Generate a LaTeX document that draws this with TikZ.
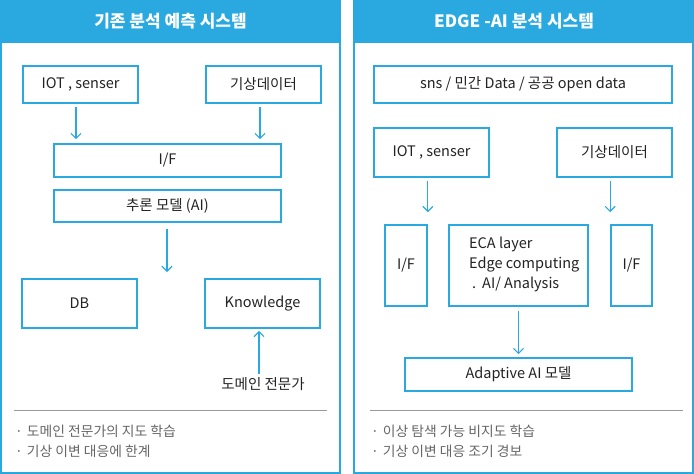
\documentclass[tikz,border=0pt]{standalone}
\usepackage{fontspec}
\setmainfont{Noto Sans CJK KR}
\usetikzlibrary{arrows.meta,calc}
\definecolor{skyb}{HTML}{29A9E0}
\definecolor{txt}{HTML}{222222}
\definecolor{graytxt}{HTML}{666666}
\definecolor{sepc}{HTML}{9A9A9A}
\begin{document}
\begin{tikzpicture}[x=1pt,y=-1pt,
  bx/.style={draw=skyb,line width=1.6pt,inner sep=0pt,text=txt,font=\fontsize{14.5}{17}\selectfont},
  hdr/.style={text=white,font=\fontsize{17}{20}\selectfont\bfseries},
  arr/.style={draw=skyb,line width=1.2pt,-{Straight Barb[length=5pt,width=10pt,line width=1.2pt]}},
  bul/.style={anchor=west,text=graytxt,font=\fontsize{13.8}{16}\selectfont,inner sep=0pt},
  lbl/.style={text=txt,font=\fontsize{14.5}{17}\selectfont,inner sep=0pt}]
\useasboundingbox (0,0) rectangle (694,474);
% panels
\fill[skyb] (0,0) rectangle (341,43);
\draw[skyb,line width=2pt] (1,0) rectangle (340,473);
\fill[skyb] (353,0) rectangle (694,43);
\draw[skyb,line width=2pt] (354,0) rectangle (693,473);
\node[hdr] (h1) at (170.5,21) {기존 분석 예측 시스템};
\node[hdr] (h2) at (514,21) {EDGE -AI 분석 시스템};
% left panel
\node[bx,minimum width=115pt,minimum height=37pt] (iot1) at (80.5,84.5) {IOT , senser};
\node[bx,minimum width=115pt,minimum height=37pt] (wx1) at (263.5,84.5) {기상데이터};
\node[bx,minimum width=227pt,minimum height=33pt] (if1) at (167.5,160.5) {I/F};
\node[bx,minimum width=227pt,minimum height=32pt] (inf) at (167.5,206) {추론 모델 (AI)};
\node[bx,minimum width=115pt,minimum height=49pt] (db) at (79.5,303.5) {DB};
\node[bx,minimum width=115pt,minimum height=49pt] (know) at (262.5,303.5) {Knowledge};
\node[lbl] (exp) at (263,384) {도메인 전문가};
\coordinate (midc) at (167,272);
\draw[arr,shorten <=3pt,shorten >=4pt] ([xshift=-4.5pt]iot1.south) -- ([xshift=-4.5pt]iot1.south |- if1.north);
\draw[arr,shorten <=3pt,shorten >=4pt] ([xshift=-3.5pt]wx1.south) -- ([xshift=-3.5pt]wx1.south |- if1.north);
\draw[arr,shorten <=6pt] ([xshift=-0.5pt]inf.south) -- (midc);
\draw[arr,shorten <=3pt,shorten >=2pt] ([xshift=-4pt]exp.north) -- ([xshift=-4pt]exp.north |- know.south);
\draw[sepc,line width=1pt] (14,410) -- (327,410);
\node[bul] (b1) at (15,431) {·\hspace{4pt}도메인 전문가의 지도 학습};
\node[bul] (b2) at (15,451) {·\hspace{4pt}기상 이변 대응에 한계};
% right panel
\node[bx,minimum width=298pt,minimum height=37pt] (sns) at (523,84.5) {sns / 민간 Data / 공공 open data};
\node[bx,minimum width=115pt,minimum height=49pt] (iot2) at (431.5,152.5) {IOT , senser};
\node[bx,minimum width=115pt,minimum height=49pt] (wx2) at (614.5,152.5) {기상데이터};
\node[bx,minimum width=42pt,minimum height=81pt] (ifl) at (406,265.5) {I/F};
\node[bx,minimum width=139pt,minimum height=81pt] (eca) at (518.5,265.5) {};
\node[lbl,anchor=west,align=left,font=\fontsize{14.5}{20}\selectfont] (ecat) at (469,264) {ECA layer\\Edge computing\\\hspace{3pt}.\hspace{6pt}AI/ Analysis};
\node[bx,minimum width=41pt,minimum height=81pt] (ifr) at (631.5,265.5) {I/F};
\node[bx,minimum width=227pt,minimum height=33pt] (ada) at (518.5,374.5) {Adaptive AI 모델};
\draw[arr,shorten <=3pt,shorten >=12pt] (iot2.south -| ifl.east) -- (ifl.north east);
\draw[arr,shorten <=3pt,shorten >=12pt] (wx2.south -| ifr.west) -- (ifr.north west);
\draw[arr,shorten <=4pt,shorten >=3pt] (eca.south) -- (ada.north);
\draw[sepc,line width=1pt] (370,410) -- (683,410);
\node[bul] (b3) at (371,431) {·\hspace{4pt}이상 탐색 가능 비지도 학습};
\node[bul] (b4) at (371,451) {·\hspace{4pt}기상 이변 대응 조기 경보};
\end{tikzpicture}
\end{document}
